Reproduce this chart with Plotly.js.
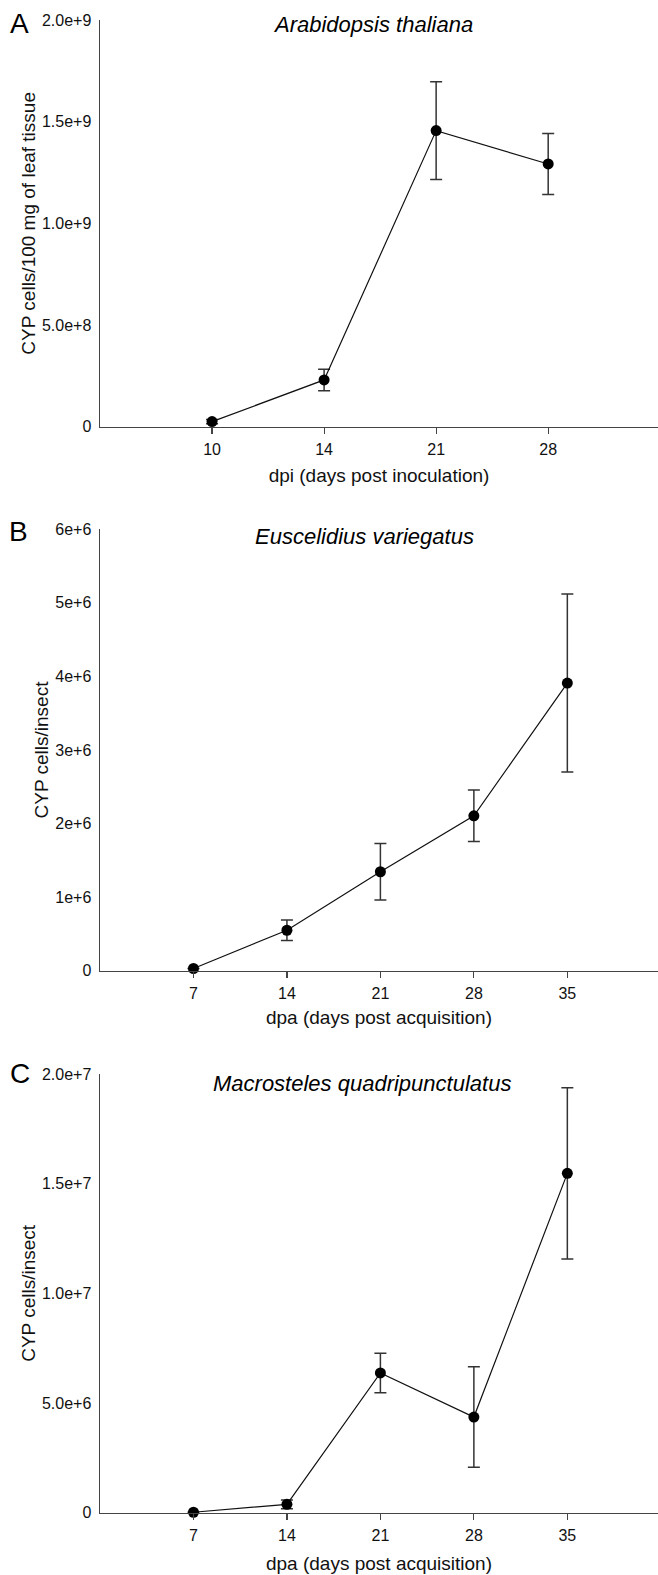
<!DOCTYPE html>
<html>
<head>
<meta charset="utf-8">
<script src="https://cdn.plot.ly/plotly-3.0.1.min.js"></script>
<style>html,body{margin:0;padding:0;background:#fff}#chart{width:658px;height:1575px}</style>
</head>
<body>
<div id="chart"></div>
<script>
// Panel A: Arabidopsis thaliana
const catsA = ['10', '14', '21', '28'];
const valsA = [2.5e7, 2.3e8, 1.456e9, 1.292e9];
const errA = [1.0e7, 5.3e7, 2.4e8, 1.5e8];
const yTickValsA = [0, 5e8, 1e9, 1.5e9, 2e9];
const yTickTextA = ['0', '5.0e+8', '1.0e+9', '1.5e+9', '2.0e+9'];

// Panel B: Euscelidius variegatus
const catsB = ['7', '14', '21', '28', '35'];
const valsB = [3e4, 5.5e5, 1.345e6, 2.105e6, 3.91e6];
const errB = [0, 1.4e5, 3.85e5, 3.5e5, 1.21e6];
const yTickValsB = [0, 1e6, 2e6, 3e6, 4e6, 5e6, 6e6];
const yTickTextB = ['0', '1e+6', '2e+6', '3e+6', '4e+6', '5e+6', '6e+6'];

// Panel C: Macrosteles quadripunctulatus
const catsC = ['7', '14', '21', '28', '35'];
const valsC = [2e4, 3.8e5, 6.37e6, 4.36e6, 1.547e7];
const errC = [0, 2.0e5, 9.0e5, 2.29e6, 3.9e6];
const yTickValsC = [0, 5e6, 1e7, 1.5e7, 2e7];
const yTickTextC = ['0', '5.0e+6', '1.0e+7', '1.5e+7', '2.0e+7'];

const W = 658, H = 1575;
const px = x => x / W;
const py = y => 1 - y / H;
const FONT = 'Liberation Sans, Arial, sans-serif';

function trace(cats, vals, errs, n) {
  return {
    type: 'scatter', mode: 'lines+markers',
    x: cats, y: vals,
    xaxis: 'x' + (n === 1 ? '' : n), yaxis: 'y' + (n === 1 ? '' : n),
    line: {color: '#111', width: 1.2},
    marker: {color: '#000', size: 11},
    error_y: {type: 'data', array: errs, visible: true, color: '#333', thickness: 1.5, width: 6},
    cliponaxis: false, showlegend: false, hoverinfo: 'skip'
  };
}

function xaxis(range, title, anchor, standoff) {
  return {
    type: 'category', domain: [px(100), 1], range: range, anchor: anchor,
    showline: true, linecolor: '#444', linewidth: 1.5,
    ticks: 'outside', ticklen: 6, tickwidth: 1.2, tickcolor: '#444',
    ticklabelstandoff: 2,
    showgrid: false, zeroline: false, fixedrange: true,
    tickfont: {family: FONT, size: 16, color: '#111'},
    title: {text: title, font: {family: FONT, size: 19, color: '#111'}, standoff: standoff}
  };
}
function yaxis(domain, range, tv, tt, title, anchor) {
  return {
    domain: domain, range: range, anchor: anchor,
    showline: true, linecolor: '#444', linewidth: 1.5,
    ticks: '', tickvals: tv, ticktext: tt, ticklabelstandoff: 4,
    showgrid: false, zeroline: false, fixedrange: true,
    tickfont: {family: FONT, size: 16, color: '#111'},
    title: {text: title, font: {family: FONT, size: 19, color: '#111'}, standoff: 1}
  };
}

const data = [
  trace(catsA, valsA, errA, 1),
  trace(catsB, valsB, errB, 2),
  trace(catsC, valsC, errC, 3)
];

function ann(text, x, y, size, xanchor) {
  return {text: text, xref: 'paper', yref: 'paper', x: px(x), y: py(y),
    xanchor: xanchor, yanchor: 'middle', showarrow: false,
    font: {family: FONT, size: size, color: '#000'}};
}

const layout = {
  width: W, height: H,
  margin: {l: 0, r: 0, t: 0, b: 0},
  paper_bgcolor: '#fff', plot_bgcolor: '#fff',
  xaxis: xaxis([-1, 3.98], 'dpi (days post inoculation)', 'y', 11),
  yaxis: yaxis([py(426.7), py(20)], [0, 2e9], yTickValsA, yTickTextA, 'CYP cells/100 mg of leaf tissue', 'x'),
  xaxis2: xaxis([-1, 4.97], 'dpa (days post acquisition)', 'y2', 9),
  yaxis2: yaxis([py(970.7), py(529.3)], [0, 6e6], yTickValsB, yTickTextB, 'CYP cells/insect', 'x2'),
  xaxis3: xaxis([-1, 4.97], 'dpa (days post acquisition)', 'y3', 13),
  yaxis3: yaxis([py(1512.7), py(1074)], [0, 2e7], yTickValsC, yTickTextC, 'CYP cells/insect', 'x3'),
  annotations: [
    ann('A', 8, 23, 28, 'left'),
    ann('B', 7, 531, 28, 'left'),
    ann('C', 8, 1073, 28, 'left'),
    ann('<i>Arabidopsis thaliana</i>', 373, 24, 22, 'center'),
    ann('<i>Euscelidius variegatus</i>', 365, 537, 22, 'center'),
    ann('<i>Macrosteles quadripunctulatus</i>', 362, 1083, 22, 'center')
  ]
};

Plotly.newPlot('chart', data, layout, {displayModeBar: false, staticPlot: true});
</script>
</body>
</html>
